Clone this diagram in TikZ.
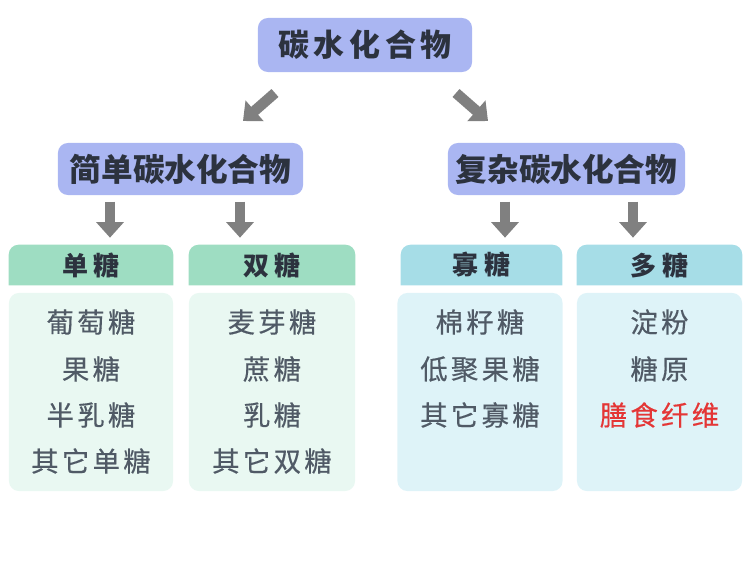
\documentclass[tikz,border=0pt]{standalone}
\usepackage{fontspec}
\usetikzlibrary{arrows.meta}
\newfontfamily\cjk{Noto Sans CJK SC}
\newfontfamily\cjkT[LetterSpace=15]{Noto Sans CJK SC}
\newfontfamily\cjkH[LetterSpace=20]{Noto Sans CJK SC}
\newfontfamily\cjkC[LetterSpace=12,FakeBold=0.4]{Noto Sans CJK SC}
\definecolor{titlefill}{RGB}{170,182,242}
\definecolor{titletext}{RGB}{44,50,62}
\definecolor{hgreen}{RGB}{158,221,194}
\definecolor{cgreen}{RGB}{233,248,242}
\definecolor{hcyan}{RGB}{166,221,231}
\definecolor{ccyan}{RGB}{222,243,248}
\definecolor{agray}{RGB}{128,128,128}
\definecolor{ctext}{RGB}{80,90,102}
\definecolor{redtext}{RGB}{228,54,54}
\pgfdeclarelayer{bg}
\pgfsetlayers{bg,main}
\begin{document}
\begin{tikzpicture}[x=0.025cm,y=-0.025cm,
  titlebox/.style={fill=titlefill, rounded corners=7pt, inner sep=0pt, text=titletext},
  toptitle/.style={titlebox, minimum width=5.35cm, minimum height=1.35cm, font=\cjkT\bfseries\fontsize{22}{26}\selectfont},
  midtitle/.style={titlebox, minimum height=1.3cm, font=\cjk\bfseries\fontsize{22.5}{26}\selectfont},
  hdr/.style={inner sep=0pt, minimum height=1.0cm, text=titletext, font=\cjkH\bfseries\fontsize{18.5}{22}\selectfont},
  cbox/.style={fill=#1, rounded corners=7pt, inner sep=0pt, minimum height=4.95cm},
  item/.style={inner sep=0pt, text=ctext, font=\cjkC\fontsize{19.5}{23}\selectfont},
  blockarrow/.style={draw=agray, line width=7.5pt, -{Triangle[width=19pt,length=11pt]}}
]
\useasboundingbox (0,0) rectangle (750,578);

% titles
\node[toptitle] (top) at (365,45) {碳水化合物};
\node[midtitle, minimum width=6.125cm] (midL) at (180.5,169) {简单碳水化合物};
\node[midtitle, minimum width=5.925cm] (midR) at (566.5,169) {复杂碳水化合物};

% headers
\node[hdr, minimum width=4.1cm]   (hA) at (91,265)    {单糖};
\node[hdr, minimum width=4.15cm]  (hB) at (272,265)   {双糖};
\node[hdr, minimum width=4.025cm] (hC) at (481.5,265) {寡糖};
\node[hdr, minimum width=4.125cm] (hD) at (659.5,265) {多糖};

\begin{pgfonlayer}{bg}
\foreach \h/\c in {hA/hgreen,hB/hgreen,hC/hcyan,hD/hcyan}{
  \fill[\c] (\h.south west) [rounded corners=7pt] -- (\h.north west) -- (\h.north east) [sharp corners] -- (\h.south east) -- cycle;
}
\end{pgfonlayer}

% content boxes
\node[cbox=cgreen, minimum width=4.1cm]   (bA) at (91,392)    {};
\node[cbox=cgreen, minimum width=4.15cm]  (bB) at (272,392)   {};
\node[cbox=ccyan,  minimum width=4.125cm] (bC) at (480,392)   {};
\node[cbox=ccyan,  minimum width=4.125cm] (bD) at (659.5,392) {};

% items
\node[item] (a1) at (91,322) {葡萄糖};
\node[item] (a2) at (91,369) {果糖};
\node[item] (a3) at (91,415) {半乳糖};
\node[item] (a4) at (91,461) {其它单糖};

\node[item] (b1) at (272,322) {麦芽糖};
\node[item] (b2) at (272,369) {蔗糖};
\node[item] (b3) at (272,415) {乳糖};
\node[item] (b4) at (272,461) {其它双糖};

\node[item] (c1) at (480,322) {棉籽糖};
\node[item] (c2) at (480,369) {低聚果糖};
\node[item] (c3) at (480,415) {其它寡糖};

\node[item] (d1) at (659.5,322) {淀粉};
\node[item] (d2) at (659.5,369) {糖原};
\node[item, text=redtext] (d3) at (659.5,415) {膳食纤维};

% arrows
\coordinate (dL1) at (275,93);
\coordinate (dL2) at (243,121);
\coordinate (dR1) at (456,93);
\coordinate (dR2) at (488,121);
\draw[blockarrow] (dL1) -- (dL2);
\draw[blockarrow] (dR1) -- (dR2);

\coordinate (x1) at (110,0);
\coordinate (x2) at (240,0);
\coordinate (x3) at (505,0);
\coordinate (x4) at (633,0);
\draw[blockarrow] ([yshift=-4.5pt]midL.south -| x1) -- ([yshift=5pt]hA.north -| x1);
\draw[blockarrow] ([yshift=-4.5pt]midL.south -| x2) -- ([yshift=5pt]hB.north -| x2);
\draw[blockarrow] ([yshift=-4.5pt]midR.south -| x3) -- ([yshift=5pt]hC.north -| x3);
\draw[blockarrow] ([yshift=-4.5pt]midR.south -| x4) -- ([yshift=5pt]hD.north -| x4);
\end{tikzpicture}
\end{document}
